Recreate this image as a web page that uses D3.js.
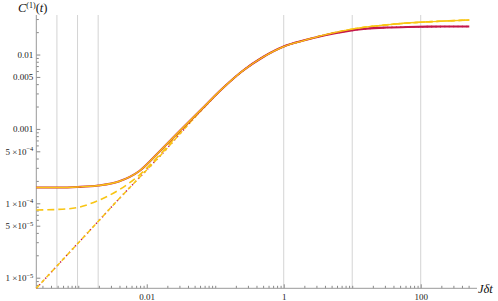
<!DOCTYPE html>
<html>
<head>
<meta charset="utf-8">
<script src="https://cdn.jsdelivr.net/npm/d3@7"></script>
<style>
  html, body { margin: 0; padding: 0; background: #fff; }
  svg { display: block; }
</style>
</head>
<body>
<div id="chart"></div>
<script>
// Time steps J*dt (powers of two, 2^-12 ... 2^9)
const tValues = [0.000244140625, 0.00048828125, 0.0009765625, 0.001953125, 0.00390625, 0.0078125,
  0.015625, 0.03125, 0.0625, 0.125, 0.25, 0.5, 1, 2, 4, 8, 16, 32, 64, 128, 256, 512];

// C^(1)(t)
const crimsonSolid = [1.63e-4, 1.63e-4, 1.656e-4, 1.734e-4, 1.963e-4, 2.717e-4, 5.05e-4, 9.66e-4,
  1.823e-3, 3.437e-3, 6.003e-3, 9.26e-3, 0.01281, 0.01552, 0.0182, 0.0205, 0.02222, 0.02306,
  0.0235, 0.02371, 0.02378, 0.02386];
const goldSolid = [1.63e-4, 1.63e-4, 1.656e-4, 1.734e-4, 1.963e-4, 2.717e-4, 5.05e-4, 9.66e-4,
  1.823e-3, 3.437e-3, 6.003e-3, 9.26e-3, 0.01281, 0.01552, 0.0184, 0.02115, 0.02342, 0.02507,
  0.02651, 0.02751, 0.02838, 0.02909];
const goldDashed = [8.13e-5, 8.26e-5, 8.78e-5, 1.09e-4, 1.51e-4, 2.4e-4, 4.53e-4, 9.23e-4,
  1.795e-3, 3.43e-3, 6.0e-3, 9.26e-3, 0.01281, 0.01552, 0.0184, 0.02115, 0.02342, 0.02507,
  0.02651, 0.02751, 0.02838, 0.02909];
const goldNoiseless = [7.2e-6, 1.437e-5, 2.864e-5, 5.71e-5, 1.139e-4, 2.222e-4, 4.32e-4, 8.81e-4,
  1.768e-3, 3.42e-3, 5.99e-3, 9.25e-3, 0.0128, 0.01552, 0.0184, 0.02115, 0.02342, 0.02507,
  0.02651, 0.02751, 0.02838, 0.02909];
const crimsonNoiseless = [7.2e-6, 1.437e-5, 2.864e-5, 5.71e-5, 1.139e-4, 2.222e-4, 4.32e-4, 8.81e-4,
  1.768e-3, 3.42e-3, 5.99e-3, 9.25e-3, 0.0128, 0.01552, 0.0182, 0.0205, 0.02222, 0.02306,
  0.0235, 0.02371, 0.02378, 0.02386];

// Axes
const xTickValues = [0.01, 1, 100];
const xTickLabels = ['0.01', '1', '100'];
const yTickValues = [1e-5, 5e-5, 1e-4, 5e-4, 0.001, 0.005, 0.01];
const yTickLabels = ['1 \u00d710^\u22125', '5 \u00d710^\u22125', '1 \u00d710^\u22124', '5 \u00d710^\u22124', '0.001', '0.005', '0.01'];
const gridValues = [0.00048828125, 0.0009765625, 0.001953125, 1, 10, 100];

// Layout
const width = 498, height = 301;
const xLeft = 36.3, xRight = 469.3, axisEnd = 477;
const yBottom = 288.3, yTop = 15;
const crimson = '#c4174a', gold = '#f8c514';
const serif = '"Liberation Serif", "DejaVu Serif", serif';

const svg = d3.select('#chart').append('svg')
  .attr('width', width)
  .attr('height', height);

const x = d3.scaleLog().domain([tValues[0], tValues[tValues.length - 1]]).range([xLeft, xRight]);
const y = d3.scaleLog().domain([7.2e-6, 0.034]).range([yBottom, yTop]);

// vertical grid lines
svg.append('g')
  .selectAll('line')
  .data(gridValues)
  .enter()
  .append('line')
  .attr('x1', d => x(d))
  .attr('x2', d => x(d))
  .attr('y1', yTop)
  .attr('y2', yBottom)
  .attr('stroke', '#d4d4d4')
  .attr('stroke-width', 1);

// minor ticks
const xMinor = x.ticks().filter(v => !xTickValues.some(m => Math.abs(m - v) / m < 1e-6));
const yMinor = y.ticks().filter(v => !yTickValues.some(m => Math.abs(m - v) / m < 1e-6));

svg.append('g')
  .attr('transform', `translate(0, ${yBottom})`)
  .call(d3.axisBottom(x).tickValues(xMinor).tickSize(-2.5).tickFormat(''))
  .call(g => g.select('.domain').remove())
  .selectAll('line').attr('stroke', '#888');

svg.append('g')
  .attr('transform', `translate(${xLeft}, 0)`)
  .call(d3.axisLeft(y).tickValues(yMinor).tickSize(-2.5).tickFormat(''))
  .call(g => g.select('.domain').remove())
  .selectAll('line').attr('stroke', '#888');

// major ticks + labels
const xAxis = svg.append('g')
  .attr('transform', `translate(0, ${yBottom})`)
  .call(d3.axisBottom(x).tickValues(xTickValues).tickSize(-4).tickPadding(5)
    .tickFormat((d, i) => xTickLabels[i]))
  .call(g => g.select('.domain').remove());
xAxis.selectAll('line').attr('stroke', '#888');
xAxis.selectAll('text')
  .style('font-family', serif)
  .style('font-size', '9px')
  .attr('fill', '#222');

const yAxis = svg.append('g')
  .attr('transform', `translate(${xLeft}, 0)`)
  .call(d3.axisLeft(y).tickValues(yTickValues).tickSize(-4).tickPadding(3).tickFormat(''))
  .call(g => g.select('.domain').remove());
yAxis.selectAll('line').attr('stroke', '#888');
yAxis.selectAll('text')
  .style('font-family', serif)
  .style('font-size', '9px')
  .attr('fill', '#222')
  .each(function(d, i) {
    const parts = yTickLabels[i].split('^');
    const t = d3.select(this);
    t.append('tspan').text(parts[0]);
    if (parts.length > 1) {
      t.append('tspan')
        .attr('dy', '-3.5')
        .style('font-size', '6.5px')
        .text(parts[1]);
    }
  });

// axis lines
svg.append('line')
  .attr('x1', xLeft).attr('x2', axisEnd)
  .attr('y1', yBottom).attr('y2', yBottom)
  .attr('stroke', '#999').attr('stroke-width', 1);
svg.append('line')
  .attr('x1', xLeft).attr('x2', xLeft)
  .attr('y1', yTop).attr('y2', yBottom)
  .attr('stroke', '#999').attr('stroke-width', 1);

// curves
const line = d3.line()
  .x(d => x(d[0]))
  .y(d => y(d[1]))
  .curve(d3.curveMonotoneX);

function addCurve(values, color, widthPx, dash) {
  svg.append('path')
    .datum(tValues.map((t, i) => [t, values[i]]))
    .attr('d', line)
    .attr('fill', 'none')
    .attr('stroke', color)
    .attr('stroke-width', widthPx)
    .attr('stroke-dasharray', dash)
    .attr('stroke-linecap', 'butt');
}

addCurve(crimsonNoiseless, crimson, 1.6, '1.2,3.2');
addCurve(goldNoiseless, gold, 1.5, '4.5,3');
addCurve(goldDashed, gold, 1.6, '7,4');
addCurve(crimsonSolid, crimson, 2.1, null);
addCurve(goldSolid, gold, 1.4, null);

// axis labels
const yLabel = svg.append('text')
  .attr('x', 18)
  .attr('y', 12)
  .style('font-family', serif)
  .style('font-size', '12.5px')
  .attr('fill', '#111');
yLabel.append('tspan').style('font-style', 'italic').text('C');
yLabel.append('tspan').attr('dy', -4.5).style('font-size', '8px').text('(1)');
yLabel.append('tspan').attr('dy', 4.5).text('(');
yLabel.append('tspan').style('font-style', 'italic').text('t');
yLabel.append('tspan').text(')');

const xLabel = svg.append('text')
  .attr('x', 478)
  .attr('y', 293)
  .style('font-family', serif)
  .style('font-size', '12.5px')
  .style('font-style', 'italic')
  .attr('fill', '#111')
  .text('J\u03b4t');
</script>
</body>
</html>
